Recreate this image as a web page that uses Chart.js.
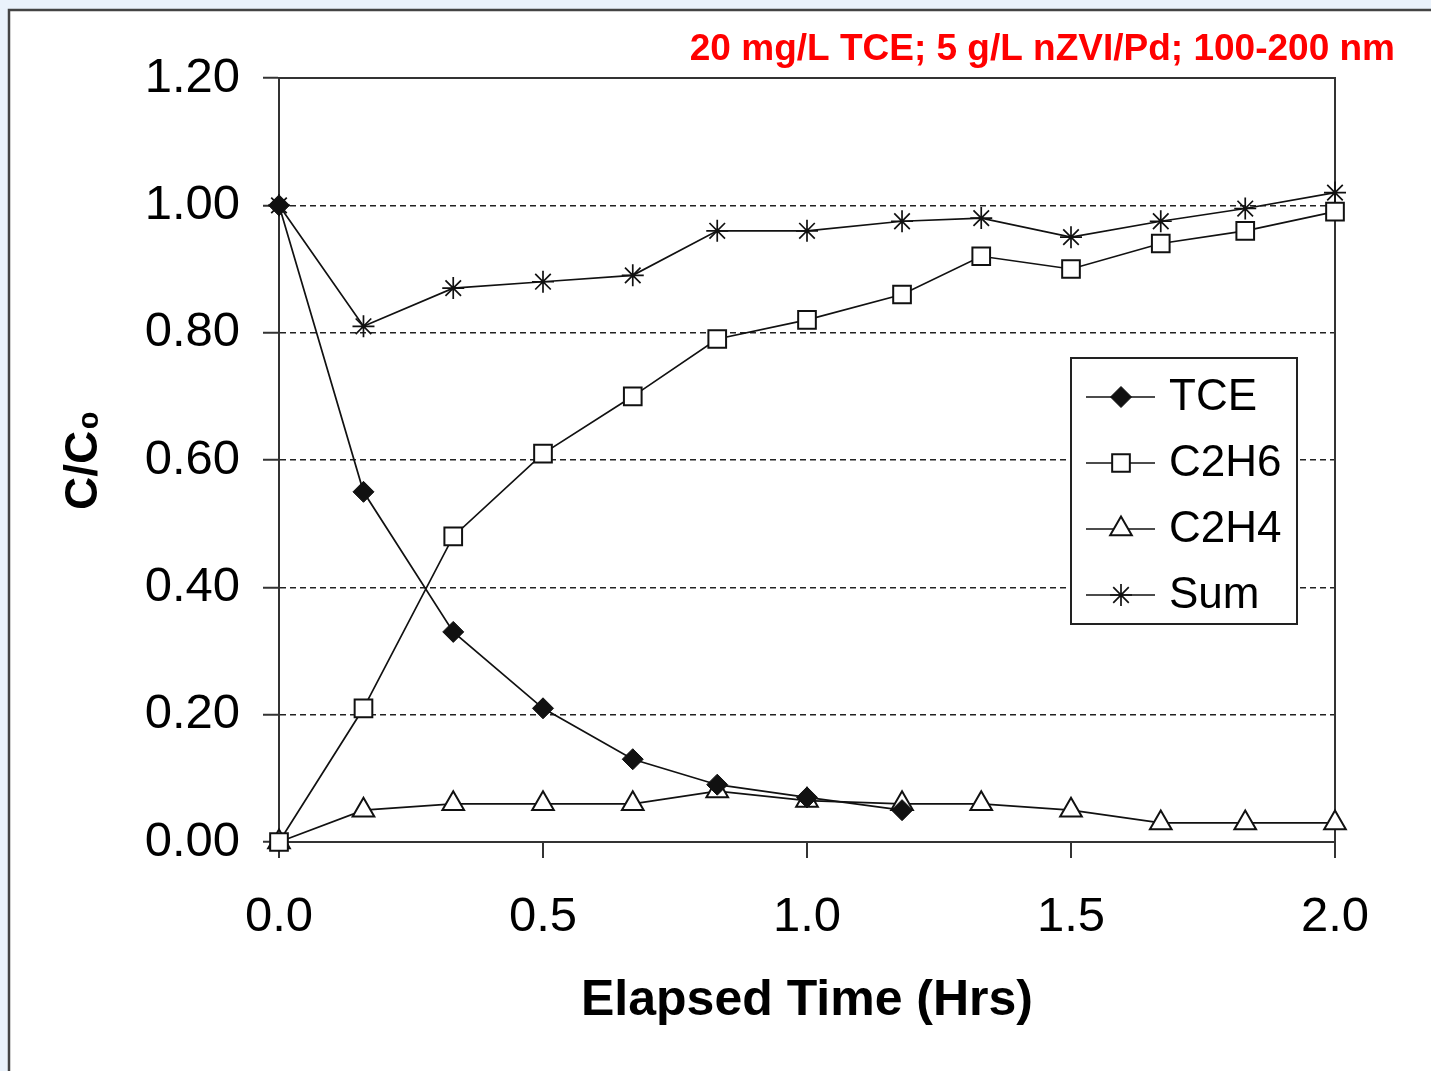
<html lang="en"><head>
<meta charset="utf-8">
<title>TCE reduction by nZVI/Pd</title>
<style>
  * { margin: 0; padding: 0; box-sizing: border-box; }
  body { width: 1431px; height: 1071px; overflow: hidden; background: #eaf2fb; }
  #chart { display: block; }
</style>
</head>
<body>
<canvas id="chart" width="1431" height="1071"></canvas>
<script src="https://cdn.jsdelivr.net/npm/chart.js@4.4.1/dist/chart.umd.min.js"></script>
<script>
// sampling times, hours (roughly every 10 min)
const times = [0, 0.16, 0.33, 0.5, 0.67, 0.83, 1.0, 1.18, 1.33, 1.5, 1.67, 1.83, 2.0];
// C/C0
const tce  = [1.00, 0.55, 0.33, 0.21, 0.13, 0.09, 0.07, 0.05];
const c2h6 = [0.00, 0.21, 0.48, 0.61, 0.70, 0.79, 0.82, 0.86, 0.92, 0.90, 0.94, 0.96, 0.99];
const c2h4 = [0.00, 0.05, 0.06, 0.06, 0.06, 0.08, 0.065, 0.06, 0.06, 0.05, 0.03, 0.03, 0.03];
const sum  = [1.00, 0.81, 0.87, 0.88, 0.89, 0.96, 0.96, 0.975, 0.98, 0.95, 0.975, 0.995, 1.02];
const seriesNames = ["TCE", "C2H6", "C2H4", "Sum"];
const xTicks = [0, 0.5, 1.0, 1.5, 2.0];
const yTicks = [0, 0.2, 0.4, 0.6, 0.8, 1.0, 1.2];
const chartTitle = "20 mg/L TCE; 5 g/L nZVI/Pd; 100-200 nm";

const FONT = 'Arial, "Liberation Sans", "DejaVu Sans", sans-serif';
const INK = "#111";

const pts = (arr) => arr.map((v, i) => ({ x: times[i], y: v }));

const markerStyles = [
  { pointStyle: "rectRot", pointRadius: 10.5, pointBackgroundColor: INK, pointBorderWidth: 1 },
  { pointStyle: "rect", pointRadius: 12.5, pointBackgroundColor: "#fff", pointBorderWidth: 2 },
  { pointStyle: "triangle", pointRadius: 12.5, pointBackgroundColor: "#fff", pointBorderWidth: 2 },
  { pointStyle: "star", pointRadius: 11, pointBackgroundColor: "#fff", pointBorderWidth: 1.7 }
];

const datasets = [tce, c2h6, c2h4, sum].map((arr, i) => Object.assign({
  label: seriesNames[i],
  data: pts(arr),
  borderColor: INK,
  borderWidth: 1.7,
  pointBorderColor: INK,
  tension: 0,
  fill: false,
  clip: false
}, markerStyles[i]));

// white panel with a dark frame, like the slide it came from
const framePlugin = {
  id: "frame",
  beforeDraw(chart) {
    const ctx = chart.ctx;
    ctx.save();
    ctx.fillStyle = "#eaf2fb";
    ctx.fillRect(0, 0, chart.width, chart.height);
    ctx.fillStyle = "#fff";
    ctx.fillRect(9, 10, chart.width, chart.height);
    ctx.strokeStyle = "#444";
    ctx.lineWidth = 2.5;
    ctx.beginPath();
    ctx.moveTo(9, chart.height + 5);
    ctx.lineTo(9, 10);
    ctx.lineTo(chart.width + 5, 10);
    ctx.stroke();
    ctx.restore();
  },
  beforeDatasetsDraw(chart) {
    const { ctx, chartArea: a } = chart;
    ctx.save();
    ctx.strokeStyle = "#333";
    ctx.lineWidth = 2;
    ctx.strokeRect(a.left, a.top, a.right - a.left, a.bottom - a.top);
    ctx.restore();
  },
  afterDraw(chart) {
    const ctx = chart.ctx;
    ctx.save();
    ctx.fillStyle = "#ff0000";
    ctx.font = "bold 37px " + FONT;
    ctx.textAlign = "right";
    ctx.textBaseline = "alphabetic";
    ctx.fillText(chartTitle, 1395, 60);
    ctx.restore();
  }
};

// legend with line + marker, boxed, inside the plot
const boxLegend = {
  id: "boxLegend",
  afterDatasetsDraw(chart) {
    const ctx = chart.ctx;
    const bx = 1071, by = 358, bw = 226, bh = 266;
    ctx.save();
    ctx.fillStyle = "#fff";
    ctx.fillRect(bx, by, bw, bh);
    ctx.strokeStyle = "#222";
    ctx.lineWidth = 2;
    ctx.strokeRect(bx, by, bw, bh);
    ctx.font = "44px " + FONT;
    ctx.textBaseline = "middle";
    ctx.textAlign = "left";
    chart.data.datasets.forEach((ds, i) => {
      const y = 397 + i * 66;
      ctx.strokeStyle = INK;
      ctx.lineWidth = 1.7;
      ctx.beginPath();
      ctx.moveTo(1086, y);
      ctx.lineTo(1155, y);
      ctx.stroke();
      ctx.fillStyle = ds.pointBackgroundColor;
      ctx.strokeStyle = INK;
      ctx.lineWidth = ds.pointBorderWidth;
      Chart.helpers.drawPoint(ctx, {
        pointStyle: ds.pointStyle,
        radius: ds.pointRadius,
        rotation: 0,
        borderWidth: ds.pointBorderWidth
      }, 1121, y);
      ctx.fillStyle = "#000";
      ctx.fillText(ds.label, 1169, y + 1);
    });
    ctx.restore();
  }
};

new Chart(document.getElementById("chart"), {
  type: "line",
  data: { datasets: datasets },
  plugins: [framePlugin, boxLegend],
  options: {
    responsive: false,
    animation: false,
    layout: { padding: { left: 0, right: 96, top: 78, bottom: 0 } },
    plugins: { legend: { display: false }, tooltip: { enabled: false }, title: { display: false } },
    scales: {
      x: {
        type: "linear",
        min: 0, max: 2,
        afterBuildTicks(scale) { scale.ticks = xTicks.map(v => ({ value: v })); },
        afterFit(scale) { scale.height = 229; },
        ticks: {
          color: "#000",
          font: { family: FONT, size: 49 },
          padding: 30,
          maxRotation: 0,
          callback: v => v.toFixed(1)
        },
        grid: { drawOnChartArea: false, drawTicks: true, tickLength: 16, color: "#333", lineWidth: 2 },
        border: { display: true, color: "#333", width: 2 },
        title: {
          display: true,
          text: "Elapsed Time (Hrs)",
          color: "#000",
          font: { family: FONT, size: 50, weight: "bold" },
          padding: { top: 0, bottom: 40 }
        }
      },
      y: {
        min: 0, max: 1.2,
        afterBuildTicks(scale) { scale.ticks = yTicks.map(v => ({ value: v })); },
        afterFit(scale) { scale.width = 279; },
        ticks: {
          color: "#000",
          font: { family: FONT, size: 49 },
          padding: 23,
          callback: v => v.toFixed(2)
        },
        grid: {
          drawOnChartArea: true, drawTicks: true, tickLength: 16,
          color: "#222", lineWidth: 1.5,
          tickColor: "#333", tickWidth: 2, tickBorderDash: []
        },
        border: { display: true, color: "#333", width: 2, dash: [6, 4] },
        title: {
          display: true,
          text: "C/C₀",
          color: "#000",
          font: { family: FONT, size: 46, weight: "bold" },
          padding: { top: 57, bottom: 0 }
        }
      }
    }
  }
});
</script>
</body></html>
